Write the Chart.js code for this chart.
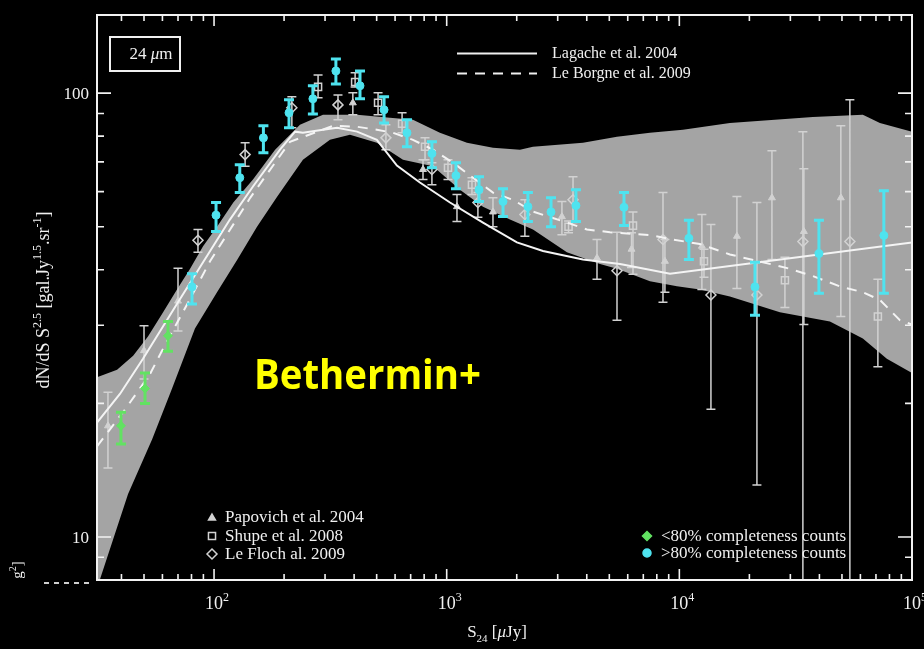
<!DOCTYPE html>
<html lang="en">
<head>
  <meta charset="UTF-8">
  <title>24 µm source counts</title>
  <script src="https://cdn.jsdelivr.net/npm/chart.js"></script>
  <style>
    html, body {
      margin: 0;
      padding: 0;
      background: #000;
    }
    canvas {
      display: block;
    }
  </style>
</head>
<body>

  <canvas id="counts" width="924" height="649"></canvas>

  <script>
    // flux S24 in µJy, counts dN/dS S^2.5 in gal.Jy^1.5.sr^-1

    // >80% completeness counts (cyan)
    const cyanS  = [80.4, 102, 129, 163, 210, 266, 334, 424, 538, 675, 864, 1096, 1377, 1746, 2234, 2808, 3594, 5781, 10990, 21140, 39810, 75680];
    const cyanN  = [36.6, 53.1, 64.5, 79.3, 90.3, 97.1, 112.2, 103.9, 91.7, 81.4, 73.1, 65.2, 60.6, 57.0, 55.5, 54.0, 55.8, 55.3, 47.1, 36.6, 43.5, 47.8];
    const cyanLo = [33.5, 48.8, 59.7, 73.4, 83.6, 89.8, 104.9, 97.1, 85.7, 75.7, 67.9, 60.9, 57.0, 52.7, 51.4, 50.0, 51.4, 50.3, 42.2, 31.6, 35.4, 35.4];
    const cyanHi = [39.2, 56.7, 69.0, 84.4, 96.6, 103.9, 119.4, 112.2, 98.1, 87.1, 77.7, 69.7, 64.8, 60.9, 59.7, 58.1, 60.6, 59.7, 51.7, 41.6, 51.7, 60.3];

    // <80% completeness counts (green)
    const greenS  = [39.8, 50.5, 63.4];
    const greenN  = [17.8, 21.6, 28.4];
    const greenLo = [16.2, 20.0, 26.2];
    const greenHi = [19.1, 23.4, 30.6];

    // Papovich et al. 2004 (triangles)
    const papS  = [35.0, 50.0, 70.0, 395, 791, 1107, 1581, 3128, 4426, 6230, 8670, 12500, 17680, 25000, 34300, 49450];
    const papN  = [17.8, 26.3, 34.0, 95.1, 67.3, 55.5, 54.0, 52.7, 42.5, 44.5, 41.8, 45.2, 47.6, 58.1, 48.8, 58.1];
    const papLo = [14.3, 22.7, 29.1, 89.4, 63.9, 51.4, 50.0, 48.0, 38.1, 40.5, 35.6, 36.1, 36.3, 42.2, 30.1, 31.4];
    const papHi = [21.2, 29.9, 40.3, 100.2, 70.8, 59.1, 58.1, 57.0, 46.8, 48.5, 46.8, 53.3, 58.5, 74.2, 67.6, 84.4];

    // Shupe et al. 2008 (squares)
    const shuS  = [280, 404, 507, 643, 807, 1013, 1284, 3340, 6320, 12760, 28430, 71340];
    const shuN  = [103.3, 106.0, 95.1, 85.3, 75.7, 67.9, 62.2, 50.0, 50.3, 41.8, 37.9, 31.4];
    const shuLo = [97.6, 103.3, 89.4, 81.4, 70.8, 63.9, 59.1, 48.5, 39.1, 38.5, 32.9, 24.2];
    const shuHi = [109.9, 111.1, 100.2, 90.3, 79.3, 70.8, 64.5, 51.5, 54.0, 44.5, 42.7, 38.1];

    // Le Floch al. 2009 (diamonds)
    const lefS  = [85.3, 136, 216, 341, 548, 864, 1362, 2168, 3491, 5395, 8505, 13670, 21550, 33960, 54070];
    const lefN  = [46.6, 72.7, 92.7, 94.1, 79.3, 67.3, 56.7, 53.3, 57.5, 39.8, 46.8, 35.1, 35.1, 46.3, 46.3];
    const lefLo = [43.8, 68.4, 83.6, 87.1, 74.6, 62.2, 52.5, 47.6, 51.1, 30.8, 33.8, 19.4, 13.1, 6.0, 6.0];
    const lefHi = [49.3, 77.3, 98.1, 99.1, 84.9, 69.7, 59.7, 57.5, 64.8, 48.6, 59.7, 50.6, 56.7, 81.9, 96.6];

    // Lagache et al. 2004 model (solid)
    const lagS = [31.4, 39.4, 49.5, 70.0, 89.7, 117, 147, 192, 223, 241, 294, 338, 412, 501, 611, 767, 1033, 1432, 2004, 2594, 3853, 5559, 9120, 100000];
    const lagN = [18.1, 21.0, 25.2, 33.8, 41.6, 51.9, 61.6, 74.6, 81.9, 81.4, 82.7, 83.6, 81.9, 78.5, 68.7, 62.9, 56.7, 51.1, 46.1, 44.1, 42.2, 41.2, 39.2, 46.1];

    // Le Borgne et al. 2009 model (dashed)
    const lebS = [31.4, 41.5, 53.1, 61.6, 78.9, 96.1, 143, 212, 325, 412, 501, 588, 716, 873, 1065, 1297, 1581, 1927, 2349, 3286, 4006, 5035, 7476, 9380, 12250, 16490, 22870, 29870, 37500, 48990, 61480, 72780, 88680, 100000];
    const lebN = [16.0, 19.4, 23.3, 27.1, 34.4, 41.8, 58.1, 77.7, 84.4, 84.0, 82.7, 81.4, 78.5, 74.6, 69.7, 64.5, 59.7, 57.5, 54.1, 51.1, 49.3, 48.6, 47.9, 46.8, 45.7, 43.3, 41.6, 40.2, 38.7, 36.7, 35.6, 34.2, 30.8, 30.1];

    // grey model range, upper and lower edges
    const bandUpS = [31.4, 38.3, 44.9, 52.0, 60.4, 69.3, 78.9, 89.7, 103, 121, 147, 183, 234, 294, 412, 570, 716, 935, 1222, 1581, 2065, 2349, 3853, 5395, 7476, 10360, 16490, 37500, 61480, 72780, 100000];
    const bandUpN = [22.9, 23.8, 25.6, 28.3, 32.1, 36.1, 40.2, 45.2, 50.0, 56.7, 63.9, 74.6, 84.9, 89.4, 89.4, 88.0, 87.1, 81.4, 77.3, 75.3, 74.6, 75.7, 77.3, 79.8, 81.4, 82.7, 85.7, 88.4, 89.4, 85.7, 81.9];
    const bandLoS = [31.4, 32.4, 42.7, 54.2, 66.0, 82.8, 103, 126, 153, 187, 241, 315, 384, 501, 649, 873, 1140, 1432, 1871, 2349, 3286, 4560, 5395, 7476, 9770, 12250, 16490, 27050, 44380, 61480, 77940, 100000];
    const bandLoN = [7.6, 8.05, 12.5, 16.6, 21.6, 29.5, 35.6, 42.2, 50.0, 58.5, 70.8, 78.5, 80.6, 77.3, 70.8, 68.4, 60.6, 55.5, 51.9, 49.3, 43.8, 41.2, 40.2, 37.7, 36.7, 36.1, 34.8, 32.1, 30.6, 28.0, 25.2, 23.4];

    // axis labels
    const xTickVals = [100, 1000, 10000, 100000];
    const xTickExp  = ['2', '3', '4', '5'];
    const yTickVals = [10, 100];
    const yTickText = ['10', '100'];

    const SERIF = '"Liberation Serif", "DejaVu Serif", serif';
    const GREY = '#d2d2d2';
    const CYAN = '#4fe3ef';
    const GREEN = '#62e262';

    function pts(xs, ys) {
      return xs.map((v, i) => ({ x: v, y: ys[i] }));
    }

    // draws text pieces: [text, kind], kind is n / i / sup / sub
    function rich(ctx, parts, x, y, size, align) {
      const fontFor = k => {
        const s = (k === 'sup' || k === 'sub') ? Math.round(size * 0.66) : size;
        return (k === 'i' ? 'italic ' : '') + s + 'px ' + SERIF;
      };
      let w = 0;
      parts.forEach(([t, k]) => { ctx.font = fontFor(k); w += ctx.measureText(t).width; });
      let cx = align === 'center' ? x - w / 2 : align === 'right' ? x - w : x;
      ctx.textAlign = 'left';
      ctx.textBaseline = 'alphabetic';
      parts.forEach(([t, k]) => {
        ctx.font = fontFor(k);
        const dy = k === 'sup' ? -size * 0.42 : k === 'sub' ? size * 0.28 : 0;
        ctx.fillText(t, cx, y + dy);
        cx += ctx.measureText(t).width;
      });
    }

    // vertical error bars with caps, drawn under the markers
    const errorBars = {
      id: 'errorBars',
      beforeDatasetDraw(chart, args) {
        const ds = chart.data.datasets[args.index];
        if (!ds.errLo) return;
        const { ctx, chartArea: a, scales: { x, y } } = chart;
        ctx.save();
        ctx.beginPath();
        ctx.rect(a.left, a.top, a.right - a.left, a.bottom - a.top);
        ctx.clip();
        ctx.strokeStyle = ds.errColor;
        ctx.lineWidth = ds.errWidth;
        ctx.beginPath();
        ds.data.forEach((p, i) => {
          const px = x.getPixelForValue(p.x);
          const top = y.getPixelForValue(ds.errHi[i]);
          const bot = y.getPixelForValue(ds.errLo[i]);
          const c = ds.capHalf;
          ctx.moveTo(px, top); ctx.lineTo(px, bot);
          ctx.moveTo(px - c, top); ctx.lineTo(px + c, top);
          ctx.moveTo(px - c, bot); ctx.lineTo(px + c, bot);
        });
        ctx.stroke();
        ctx.restore();
      }
    };

    // box, inward ticks on all four sides, tick labels and axis titles
    const frame = {
      id: 'frame',
      afterDatasetsDraw(chart) {
        const { ctx, chartArea: a, scales: { x, y } } = chart;
        ctx.save();
        ctx.strokeStyle = '#f2f2f2';
        ctx.lineWidth = 2;
        ctx.strokeRect(a.left, a.top, a.right - a.left, a.bottom - a.top);

        ctx.lineWidth = 1.6;
        ctx.beginPath();
        for (let d = 1; d <= 4; d++) {
          for (let m = 1; m <= 9; m++) {
            const v = m * Math.pow(10, d);
            if (v <= x.min || v >= x.max) continue;
            const px = x.getPixelForValue(v);
            const len = m === 1 ? 11 : 6;
            ctx.moveTo(px, a.bottom); ctx.lineTo(px, a.bottom - len);
            ctx.moveTo(px, a.top); ctx.lineTo(px, a.top + len);
          }
        }
        for (let d = 0; d <= 2; d++) {
          for (let m = 1; m <= 9; m++) {
            const v = m * Math.pow(10, d);
            if (v <= y.min || v >= y.max) continue;
            const py = y.getPixelForValue(v);
            const len = m === 1 ? 14 : 7;
            ctx.moveTo(a.left, py); ctx.lineTo(a.left + len, py);
            ctx.moveTo(a.right, py); ctx.lineTo(a.right - len, py);
          }
        }
        ctx.stroke();

        ctx.fillStyle = '#f0f0f0';
        xTickVals.forEach((v, i) => {
          rich(ctx, [['10', 'n'], [xTickExp[i], 'sup']], x.getPixelForValue(v) + 3, 609, 18, 'center');
        });
        yTickVals.forEach((v, i) => {
          rich(ctx, [[yTickText[i], 'n']], 89, y.getPixelForValue(v) + 6, 17, 'right');
        });

        rich(ctx, [['S', 'n'], ['24', 'sub'], [' [', 'n'], ['\u03bc', 'i'], ['Jy]', 'n']], 497, 637, 17, 'center');

        ctx.translate(43, 300);
        ctx.rotate(-Math.PI / 2);
        rich(ctx, [['dN/dS S', 'n'], ['2.5', 'sup'], [' [gal.Jy', 'n'], ['1.5', 'sup'], ['.sr', 'n'], ['-1', 'sup'], [']', 'n']], 0, 6, 18, 'center');
        ctx.restore();
      }
    };

    // legends, band label and the overlay text
    const notes = {
      id: 'notes',
      afterDraw(chart) {
        const ctx = chart.ctx;
        const draw = Chart.helpers.drawPoint;
        ctx.save();

        // 24 µm box
        ctx.strokeStyle = '#f0f0f0';
        ctx.lineWidth = 2;
        ctx.strokeRect(110, 37, 70, 34);
        ctx.fillStyle = '#f0f0f0';
        rich(ctx, [['24 ', 'n'], ['\u03bc', 'i'], ['m', 'n']], 151, 59, 17, 'center');

        // model legend
        ctx.lineWidth = 2;
        ctx.beginPath();
        ctx.moveTo(457, 53.5); ctx.lineTo(537, 53.5);
        ctx.stroke();
        ctx.setLineDash([10, 8]);
        ctx.beginPath();
        ctx.moveTo(457, 73.5); ctx.lineTo(537, 73.5);
        ctx.stroke();
        ctx.setLineDash([]);
        rich(ctx, [['Lagache et al. 2004', 'n']], 552, 58, 16, 'left');
        rich(ctx, [['Le Borgne et al. 2009', 'n']], 552, 78, 16, 'left');

        // literature legend
        ctx.strokeStyle = GREY;
        ctx.lineWidth = 1.5;
        ctx.fillStyle = GREY;
        draw(ctx, { pointStyle: 'triangle', radius: 4, borderWidth: 1 }, 212, 518);
        ctx.fillStyle = 'rgba(0,0,0,0)';
        draw(ctx, { pointStyle: 'rect', radius: 5, borderWidth: 1.5 }, 212, 536);
        draw(ctx, { pointStyle: 'rectRot', radius: 5, borderWidth: 1.5 }, 212, 554);
        ctx.fillStyle = '#f0f0f0';
        rich(ctx, [['Papovich et al. 2004', 'n']], 225, 522, 17, 'left');
        rich(ctx, [['Shupe et al. 2008', 'n']], 225, 541, 17, 'left');
        rich(ctx, [['Le Floch al. 2009', 'n']], 225, 559, 17, 'left');

        // completeness legend
        ctx.fillStyle = GREEN;
        ctx.strokeStyle = GREEN;
        draw(ctx, { pointStyle: 'rectRot', radius: 4.5, borderWidth: 1 }, 647, 536);
        ctx.fillStyle = CYAN;
        ctx.strokeStyle = CYAN;
        draw(ctx, { pointStyle: 'circle', radius: 4, borderWidth: 1 }, 647, 553);
        ctx.fillStyle = '#f0f0f0';
        rich(ctx, [['<80% completeness counts', 'n']], 661, 541, 17, 'left');
        rich(ctx, [['>80% completeness counts', 'n']], 661, 558, 17, 'left');

        // slide leftovers at the lower left
        ctx.save();
        ctx.translate(17, 570);
        ctx.rotate(-Math.PI / 2);
        rich(ctx, [['g', 'n'], ['2', 'sup'], [']', 'n']], 0, 5, 15, 'center');
        ctx.restore();
        ctx.strokeStyle = '#cfcfcf';
        ctx.lineWidth = 2;
        ctx.setLineDash([5, 5]);
        ctx.beginPath();
        ctx.moveTo(44, 583); ctx.lineTo(92, 583);
        ctx.stroke();
        ctx.setLineDash([]);

        // overlay label
        ctx.fillStyle = '#ffff00';
        ctx.font = 'bold 42px "Comic Sans MS", "Open Sans", sans-serif';
        ctx.textAlign = 'left';
        ctx.textBaseline = 'alphabetic';
        ctx.fillText('Bethermin+', 254, 389, 227);
        ctx.restore();
      }
    };

    const bandShape = pts(bandUpS, bandUpN).concat(pts(bandLoS, bandLoN).reverse());

    new Chart(document.getElementById('counts'), {
      type: 'scatter',
      data: {
        datasets: [
          {
            label: '>80% completeness counts',
            data: pts(cyanS, cyanN),
            errLo: cyanLo, errHi: cyanHi, errColor: CYAN, errWidth: 3, capHalf: 5,
            pointStyle: 'circle', pointRadius: 4,
            backgroundColor: CYAN, borderColor: CYAN, borderWidth: 1
          },
          {
            label: '<80% completeness counts',
            data: pts(greenS, greenN),
            errLo: greenLo, errHi: greenHi, errColor: GREEN, errWidth: 3, capHalf: 5,
            pointStyle: 'rectRot', pointRadius: 4.5,
            backgroundColor: GREEN, borderColor: GREEN, borderWidth: 1
          },
          {
            type: 'line',
            label: 'Lagache et al. 2004',
            data: pts(lagS, lagN),
            borderColor: '#f4f4f4', borderWidth: 2, pointRadius: 0, fill: false
          },
          {
            type: 'line',
            label: 'Le Borgne et al. 2009',
            data: pts(lebS, lebN),
            borderColor: '#f4f4f4', borderWidth: 2, borderDash: [10, 8], pointRadius: 0, fill: false
          },
          {
            label: 'Papovich et al. 2004',
            data: pts(papS, papN),
            errLo: papLo, errHi: papHi, errColor: GREY, errWidth: 1.5, capHalf: 4.5,
            pointStyle: 'triangle', pointRadius: 4,
            backgroundColor: GREY, borderColor: GREY, borderWidth: 1
          },
          {
            label: 'Shupe et al. 2008',
            data: pts(shuS, shuN),
            errLo: shuLo, errHi: shuHi, errColor: GREY, errWidth: 1.5, capHalf: 4.5,
            pointStyle: 'rect', pointRadius: 5,
            backgroundColor: 'rgba(0,0,0,0)', borderColor: GREY, borderWidth: 1.5
          },
          {
            label: 'Le Floch al. 2009',
            data: pts(lefS, lefN),
            errLo: lefLo, errHi: lefHi, errColor: GREY, errWidth: 1.5, capHalf: 4.5,
            pointStyle: 'rectRot', pointRadius: 5,
            backgroundColor: 'rgba(0,0,0,0)', borderColor: GREY, borderWidth: 1.5
          },
          {
            type: 'line',
            label: 'model range',
            data: bandShape,
            backgroundColor: '#a4a4a4', borderColor: 'rgba(0,0,0,0)', borderWidth: 0,
            pointRadius: 0, fill: 'shape'
          }
        ]
      },
      options: {
        responsive: false,
        animation: false,
        devicePixelRatio: 1,
        layout: { padding: { left: 97, right: 12, top: 15, bottom: 69 } },
        scales: {
          x: { type: 'logarithmic', min: 31.4, max: 100000, display: false },
          y: { type: 'logarithmic', min: 8, max: 150, display: false }
        },
        plugins: {
          legend: { display: false },
          tooltip: { enabled: false }
        }
      },
      plugins: [errorBars, frame, notes]
    });
  </script>

</body>
</html>
